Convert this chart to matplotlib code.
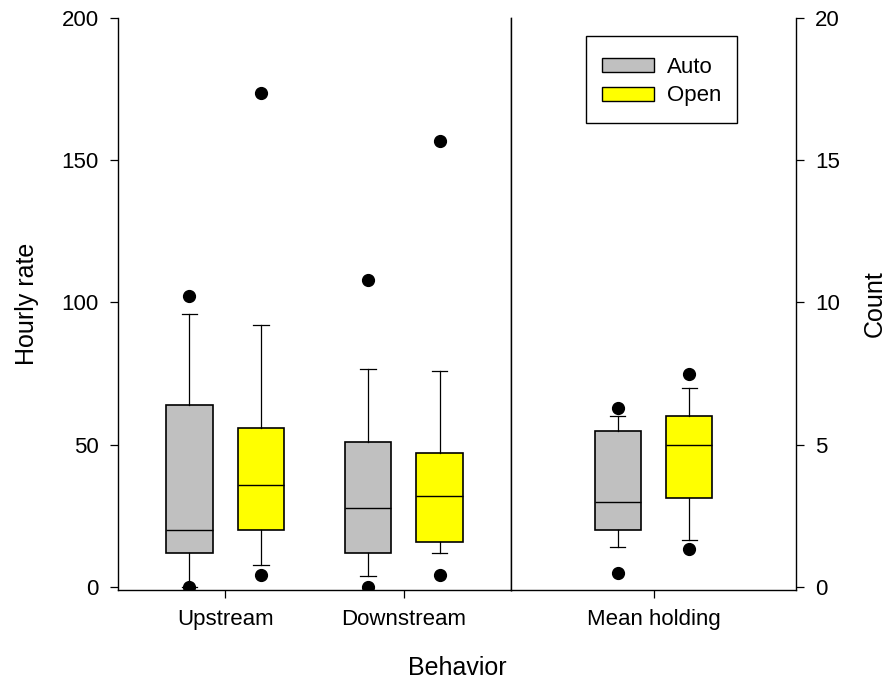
import matplotlib
matplotlib.use("Agg")
import matplotlib.pyplot as plt
from matplotlib.patches import Patch, Rectangle
from matplotlib.legend_handler import HandlerPatch

plt.rcParams['font.family'] = ['Liberation Sans', 'DejaVu Sans']

# behaviour groups (first two on hourly rate axis, last on count axis)
groups = ['Upstream', 'Downstream', 'Mean holding']

# Auto boxes: 10th pct, q1, median, q3, 90th pct, outliers
auto_lo = [0, 4, 1.4]
auto_q1 = [12, 12, 2.0]
auto_med = [20, 28, 3.0]
auto_q3 = [64, 51, 5.5]
auto_hi = [96, 76.7, 6.0]
auto_fliers = [[0, 102.4], [0, 108], [0.5, 6.3]]

# Open boxes
open_lo = [8, 12, 1.65]
open_q1 = [20, 16, 3.13]
open_med = [36, 32, 5.0]
open_q3 = [56, 47, 6.0]
open_hi = [92, 76, 7.0]
open_fliers = [[4.2, 173.5], [4.2, 156.8], [1.33, 7.5]]

auto_col = '#c0c0c0'
open_col = '#ffff00'


def box_stats(lo, q1, med, q3, hi, fl, i):
    return dict(whislo=lo[i], q1=q1[i], med=med[i], q3=q3[i], whishi=hi[i], fliers=fl[i])


def flat_patch(legend, orig_handle, xdescent, ydescent, width, height, fontsize):
    # legend swatch thinner than the row it sits in
    h = 14 * 72 / 100
    return Rectangle((-xdescent, -ydescent + (height - h) / 2), width, h)


W, H = 891, 682
fig = plt.figure(figsize=(W / 100, H / 100), dpi=100)
bot = (H - 590) / H
hgt = (590 - 17.7) / H
ax1 = fig.add_axes([118 / W, bot, 393 / W, hgt])
ax2 = fig.add_axes([511 / W, bot, 285 / W, hgt])

box_kw = dict(widths=0.26, capwidths=0.085, patch_artist=True, manage_ticks=False,
              whiskerprops=dict(color='black', linewidth=0.9),
              capprops=dict(color='black', linewidth=0.9),
              medianprops=dict(color='black', linewidth=1.0),
              flierprops=dict(marker='o', markerfacecolor='black', markeredgecolor='black',
                              markersize=8.5, linestyle='none'))

axes_for = [ax1, ax1, ax2]
pos_for = [1, 2, 1]
for i in range(3):
    ax = axes_for[i]
    p = pos_for[i]
    ax.bxp([box_stats(auto_lo, auto_q1, auto_med, auto_q3, auto_hi, auto_fliers, i)],
           positions=[p - 0.2],
           boxprops=dict(facecolor=auto_col, edgecolor='black', linewidth=1.2), **box_kw)
    ax.bxp([box_stats(open_lo, open_q1, open_med, open_q3, open_hi, open_fliers, i)],
           positions=[p + 0.2],
           boxprops=dict(facecolor=open_col, edgecolor='black', linewidth=1.2), **box_kw)

ax1.set_xlim(0.4, 2.6)
ax1.set_ylim(-0.95, 200)
ax1.set_yticks([0, 50, 100, 150, 200])
ax1.set_xticks([1, 2], groups[:2])
ax1.set_ylabel('Hourly rate', fontsize=18, labelpad=16)

ax2.set_xlim(0.2, 1.8)
ax2.set_ylim(-0.095, 20)
ax2.set_yticks([0, 5, 10, 15, 20])
ax2.set_xticks([1], groups[2:])
ax2.yaxis.tick_right()
ax2.yaxis.set_label_position('right')
ax2.set_ylabel('Count', fontsize=18, labelpad=16)

for ax in (ax1, ax2):
    ax.spines['top'].set_visible(False)
    for s in ('left', 'right', 'bottom'):
        ax.spines[s].set_linewidth(1.0)
    ax.tick_params(length=5.8, width=0.9, pad=8, labelsize=16, direction='out')

fig.text(457 / W, (H - 675) / H, 'Behavior', fontsize=18, ha='center', va='baseline')

handles = [Patch(facecolor=auto_col, edgecolor='black', linewidth=1.0, label='Auto'),
           Patch(facecolor=open_col, edgecolor='black', linewidth=1.0, label='Open')]
leg = ax2.legend(handles=handles, loc='upper left', bbox_to_anchor=(586 / W, 1 - 35.7 / H),
                 bbox_transform=fig.transFigure, borderaxespad=0, fontsize=16,
                 handler_map={Patch: HandlerPatch(patch_func=flat_patch)},
                 handlelength=2.36, handleheight=1.58, handletextpad=0.6,
                 labelspacing=0.0, borderpad=0.7, fancybox=False, framealpha=1)
leg.get_frame().set_edgecolor('black')
leg.get_frame().set_linewidth(1.0)

fig.savefig('out.png', dpi=100)
